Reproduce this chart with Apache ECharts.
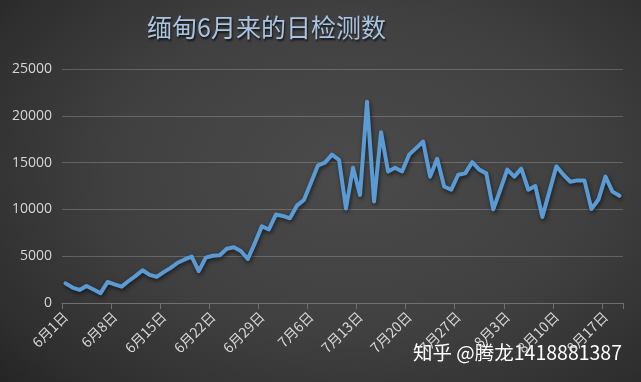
<!DOCTYPE html>
<html>
<head>
<meta charset="utf-8">
<script src="https://cdn.jsdelivr.net/npm/echarts@6/dist/echarts.min.js"></script>
<style>
html,body{margin:0;padding:0;}
#chart{width:641px;height:382px;background:radial-gradient(ellipse 75% 85% at 55% 45%, #4b4b4b 0%, #404040 50%, #2e2e2e 85%, #232323 100%);}
</style>
</head>
<body>
<div id="chart"></div>
<script>
// categories: 6月1日 .. 8月19日
const monthDays = [["6", 30, 1], ["7", 31, 1], ["8", 19, 1]];
const categories = [];
monthDays.forEach(function (m) { for (let d = m[2]; d <= m[1]; d++) categories.push(m[0] + "月" + d + "日"); });

const dailyTests = [
  2100, 1650, 1400, 1820, 1450, 1050, 2250, 2000, 1750, 2350,
  2900, 3500, 3000, 2800, 3300, 3750, 4300, 4650, 4950, 3400,
  4850, 5050, 5100, 5800, 5950, 5550, 4700, 6400, 8200, 7850,
  9450, 9300, 9050, 10400, 11000, 12850, 14700, 15000, 15850, 15300,
  10100, 14450, 11550, 21500, 10850, 18250, 14050, 14450, 14050, 15850,
  16550, 17250, 13500, 15400, 12450, 12100, 13700, 13850, 15050, 14250,
  13850, 10000, 12100, 14250, 13500, 14350, 12100, 12500, 9200, 11900,
  14600, 13700, 12950, 13100, 13100, 10050, 11050, 13500, 11900, 11450
];

const yTicks = [0, 5000, 10000, 15000, 20000, 25000];
const titleText = "缅甸6月来的日检测数";
const creditText = "知乎 @腾龙1418881387";

const chart = echarts.init(document.getElementById('chart'), null, {renderer: 'canvas'});
chart.setOption({
  backgroundColor: 'transparent',
  animation: false,
  title: {
    text: titleText,
    left: 142,
    top: 10,
    textStyle: {
      color: '#a9c4e2',
      fontSize: 25,
      fontWeight: 'normal',
      fontFamily: '"Noto Sans CJK SC", sans-serif',
      textShadowColor: 'rgba(0,0,0,0.7)',
      textShadowBlur: 2,
      textShadowOffsetX: 1,
      textShadowOffsetY: 2
    }
  },
  grid: { left: 62, right: 18, top: 69, bottom: 79 },
  xAxis: {
    type: 'category',
    data: categories,
    boundaryGap: true,
    axisLine: { lineStyle: { color: '#707070', width: 1 } },
    axisTick: { show: true, interval: 6, length: 6, lineStyle: { color: '#707070' } },
    axisLabel: {
      interval: 6,
      rotate: 45,
      margin: 11,
      color: '#d6d6d6',
      fontSize: 14,
      fontFamily: '"Noto Sans CJK SC", sans-serif'
    }
  },
  yAxis: {
    type: 'value',
    min: yTicks[0],
    max: yTicks[yTicks.length - 1],
    interval: yTicks[1] - yTicks[0],
    axisLine: { show: false },
    axisTick: { show: false },
    splitLine: { lineStyle: { color: 'rgba(255,255,255,0.2)', width: 1 } },
    axisLabel: {
      color: '#d6d6d6', fontSize: 14, margin: 10, fontFamily: '"Open Sans", sans-serif',
      formatter: function (v) { return String(v); }
    }
  },
  series: [{
    type: 'line',
    data: dailyTests,
    showSymbol: false,
    symbol: 'none',
    lineStyle: {
      color: '#5b9bd5',
      width: 4,
      cap: 'round',
      join: 'round',
      shadowColor: 'rgba(0,0,0,0.6)',
      shadowBlur: 4,
      shadowOffsetX: 1,
      shadowOffsetY: 2
    }
  }],
  graphic: [{
    type: 'text',
    right: 19,
    top: 343,
    style: {
      text: creditText,
      fill: '#ffffff',
      font: '19.5px "Noto Sans CJK SC", sans-serif',
      shadowColor: 'rgba(0,0,0,0.6)',
      shadowBlur: 2
    }
  }]
});
</script>
</body>
</html>
